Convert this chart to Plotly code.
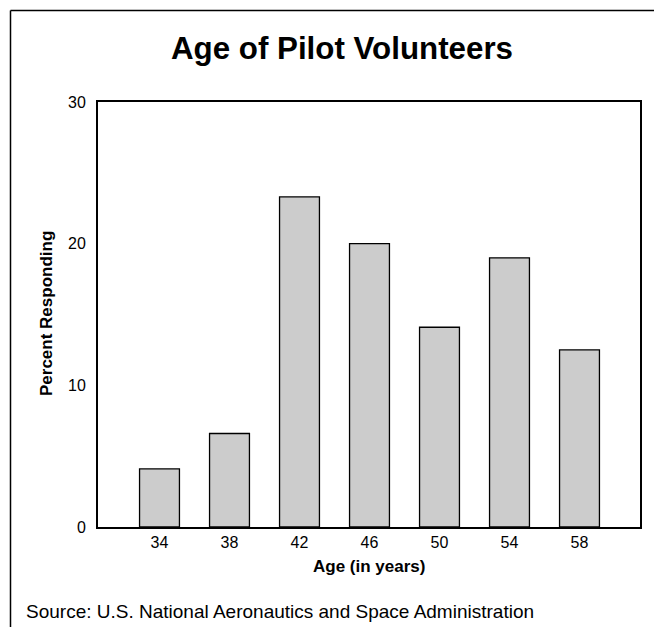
import plotly.graph_objects as go

ages = [34, 38, 42, 46, 50, 54, 58]
age_labels = ["34", "38", "42", "46", "50", "54", "58"]
percent = [4.1, 6.6, 23.3, 20.0, 14.1, 19.0, 12.5]
y_ticks = [0, 10, 20, 30]

W, H = 654, 627
L, T = 98, 102
R = W - 640
B = H - 527
pw, ph = W - L - R, H - T - B

def px(x):
    return (x - L) / pw

def py(y):
    return (H - B - y) / ph

fig = go.Figure(go.Bar(
    x=ages, y=percent, width=2.28,
    marker=dict(color="#cccccc", line=dict(color="black", width=1.3)),
))

font = "Liberation Sans, Arial, sans-serif"
fig.update_layout(
    width=W, height=H,
    margin=dict(l=L, r=R, t=T, b=B),
    paper_bgcolor="white", plot_bgcolor="white",
    showlegend=False,
    font=dict(family=font, color="black", size=16),
    xaxis=dict(range=[30.486, 61.457], tickvals=ages, ticktext=age_labels,
               showgrid=False, zeroline=False, showline=True, mirror=True,
               linecolor="black", linewidth=2, ticks="", tickfont=dict(size=16)),
    yaxis=dict(range=[0, 30], tickvals=y_ticks, showgrid=False, zeroline=False,
               showline=True, mirror=True, linecolor="black", linewidth=2,
               ticks="", ticklabelstandoff=7, tickfont=dict(size=16)),
    annotations=[
        dict(text="<b>Age of Pilot Volunteers</b>", xref="paper", yref="paper",
             x=px(342), y=py(49), xanchor="center", yanchor="middle",
             showarrow=False, font=dict(size=31.3)),
        dict(text="<b>Age (in years)</b>", xref="paper", yref="paper",
             x=px(369), y=py(566), xanchor="center", yanchor="middle",
             showarrow=False, font=dict(size=17)),
        dict(text="<b>Percent Responding</b>", xref="paper", yref="paper",
             x=px(46), y=py(314), xanchor="center", yanchor="middle",
             textangle=-90, showarrow=False, font=dict(size=17)),
        dict(text="Source: U.S. National Aeronautics and Space Administration",
             xref="paper", yref="paper", x=px(24), y=py(611),
             xanchor="left", yanchor="middle", showarrow=False, font=dict(size=19)),
    ],
    shapes=[
        dict(type="line", xref="paper", yref="paper",
             x0=px(10.5), y0=py(10.5), x1=px(800), y1=py(10.5),
             line=dict(color="black", width=1.5)),
        dict(type="line", xref="paper", yref="paper",
             x0=px(10.5), y0=py(10.5), x1=px(10.5), y1=py(800),
             line=dict(color="black", width=1.5)),
    ],
)

fig.write_html(
    "out.html",
    config={"displayModeBar": False},
    post_script="document.body.style.margin='0';document.body.style.overflow='hidden';",
)
